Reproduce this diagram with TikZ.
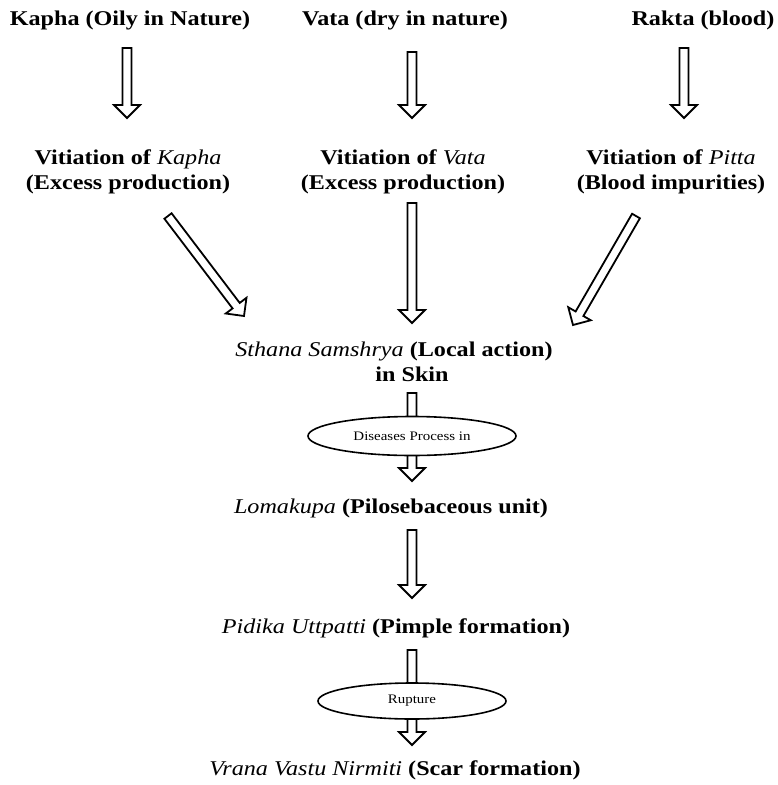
\documentclass[tikz,border=0pt]{standalone}
\usepackage{fontspec}
\setmainfont{Liberation Serif}[FakeStretch=1.15]
\usetikzlibrary{calc,shapes.geometric}
\newcommand\mi[1]{{\mdseries\itshape #1}}
\tikzset{
 lbl/.style={font=\bfseries\fontsize{21}{25}\selectfont, align=center, inner sep=0pt},
 oval/.style={draw, ellipse, line width=1.6pt, fill=white, font=\mdseries\fontsize{13}{15}\selectfont, inner sep=0pt},
 barrow/.style={draw, line width=1.8pt, line join=miter, fill=white}
}
\newcommand\barr[2]{%
 \coordinate (hb) at ($(#2)!13pt!(#1)$);
 \draw[barrow] ($(#1)!4.5pt!90:(#2)$) -- ($(hb)!4.5pt!90:(#2)$) -- ($(hb)!13pt!90:(#2)$) -- (#2) -- ($(hb)!13pt!-90:(#2)$) -- ($(hb)!4.5pt!-90:(#2)$) -- ($(#1)!4.5pt!-90:(#2)$) -- cycle;}
\begin{document}
\begin{tikzpicture}[x=1pt,y=-1pt]
\useasboundingbox[fill=white] (0,0) rectangle (777,785);
% texts
\node[lbl] (kapha) at (130,20) {Kapha (Oily in Nature)};
\node[lbl] (vata) at (405,20) {Vata (dry in nature)};
\node[lbl] (rakta) at (703,20) {Rakta (blood)};
\node[lbl] (vk) at (128,172) {Vitiation of \mi{Kapha}\\(Excess production)};
\node[lbl] (vv) at (403,172) {Vitiation of \mi{Vata}\\(Excess production)};
\node[lbl] (vp) at (671,172) {Vitiation of \mi{Pitta}\\(Blood impurities)};
\node[lbl] (sth) at (394,362) {\mi{Sthana Samshrya} (Local action)\\\hspace*{36pt}in Skin};
\node[lbl] (lom) at (391,508) {\mi{Lomakupa} (Pilosebaceous unit)};
\node[lbl] (pid) at (396,628) {\mi{Pidika Uttpatti} (Pimple formation)};
\node[lbl] (vra) at (395,770) {\mi{Vrana Vastu Nirmiti} (Scar formation)};
% arrow end points
\coordinate (a1s) at (127,48); \coordinate (a1e) at (127,118);
\coordinate (a2s) at (412,52); \coordinate (a2e) at (412,118);
\coordinate (a3s) at (684,48); \coordinate (a3e) at (684,118);
\coordinate (d1s) at (168,216); \coordinate (d1e) at (244,316);
\coordinate (d2s) at (412,203); \coordinate (d2e) at (412,323);
\coordinate (d3s) at (636,216); \coordinate (d3e) at (573,325);
\coordinate (e1s) at (412,393); \coordinate (e1e) at (412,481);
\coordinate (l1s) at (412,530); \coordinate (l1e) at (412,598);
\coordinate (e2s) at (412,650); \coordinate (e2e) at (412,745);
\barr{a1s}{a1e}
\barr{a2s}{a2e}
\barr{a3s}{a3e}
\barr{d1s}{d1e}
\barr{d2s}{d2e}
\barr{d3s}{d3e}
\barr{e1s}{e1e}
\barr{l1s}{l1e}
\barr{e2s}{e2e}
\node[oval, minimum width=208pt, minimum height=39pt] (ov1) at (412,436) {Diseases Process in};
\node[oval, minimum width=188pt, minimum height=36pt] (ov2) at (412,701) {Rupture};
\end{tikzpicture}
\end{document}
